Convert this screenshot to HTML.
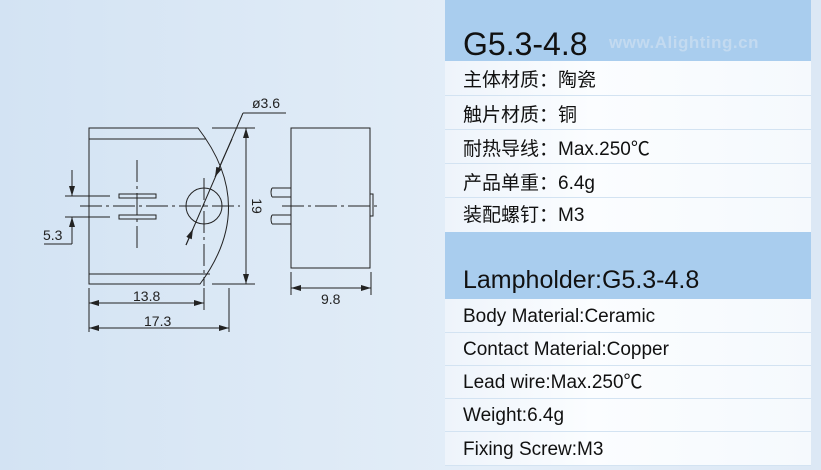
<!DOCTYPE html>
<html><head><meta charset="utf-8"><style>
html,body{margin:0;padding:0}
body{width:821px;height:470px;overflow:hidden;position:relative;background:linear-gradient(90deg,#d3e3f3 0%,#e4eef8 60%,#dce8f5 100%);font-family:"Liberation Sans","Noto Sans CJK SC",sans-serif}
#panel{position:absolute;left:445px;top:0;width:366px;height:466px;background:linear-gradient(90deg,#eef4fb,#fbfdff 40%,#f5f9fd)}
.band{position:absolute;left:0;width:366px;background:#a9cdee}
.row{position:absolute;left:0;width:366px;border-bottom:1px solid #d3e3f2;box-sizing:border-box;font-size:19px;color:#111;padding-left:18px}
.t{position:absolute;left:18px;color:#111}
</style></head><body>
<div id="panel">
 <div class="band" style="top:0;height:61px"></div>
 <div class="t" style="top:24px;font-size:32px;line-height:40px">G5.3-4.8</div>
 <div style="position:absolute;left:164px;top:33px;font-size:17px;font-weight:bold;color:#c3daf0;letter-spacing:0.5px">www.Alighting.cn</div>
 <div class="row" style="top:61px;height:35px;line-height:40px">主体材质：陶瓷</div>
 <div class="row" style="top:96px;height:34px;line-height:40px">触片材质：铜</div>
 <div class="row" style="top:130px;height:34px;line-height:40px">耐热导线：Max.250℃</div>
 <div class="row" style="top:164px;height:34px;line-height:40px">产品单重：6.4g</div>
 <div class="row" style="top:198px;height:34px;line-height:36px;border:none">装配螺钉：M3</div>
 <div class="band" style="top:232px;height:67px"></div>
 <div class="t" style="top:264px;font-size:25px;line-height:32px">Lampholder:G5.3-4.8</div>
 <div class="row" style="top:299px;height:34px;line-height:36px">Body Material:Ceramic</div>
 <div class="row" style="top:333px;height:33px;line-height:34px">Contact Material:Copper</div>
 <div class="row" style="top:366px;height:33px;line-height:34px">Lead wire:Max.250℃</div>
 <div class="row" style="top:399px;height:33px;line-height:34px">Weight:6.4g</div>
 <div class="row" style="top:432px;height:34px;line-height:36px">Fixing Screw:M3</div>
</div>
<svg width="445" height="470" style="position:absolute;left:0;top:0" font-family="Liberation Sans, sans-serif" font-size="14" fill="none" stroke="#222" stroke-width="1">
<defs><marker id="a" viewBox="0 0 10 6" refX="10" refY="3" markerWidth="10" markerHeight="6" orient="auto-start-reverse" markerUnits="userSpaceOnUse"><path d="M0,0L10,3L0,6z" fill="#222" stroke="none"/></marker></defs>
<path d="M89,128H198Q258,206 200,284H89Z"/>
<line x1="89" y1="139" x2="206" y2="139"/><line x1="89" y1="274" x2="210" y2="274"/>
<rect x="119" y="194" width="37" height="4"/><rect x="119" y="215" width="37" height="4"/>
<circle cx="204" cy="206" r="18"/>
<path d="M80,206H240M137,160V252M204,178V286" stroke-dasharray="22,4,3,4"/>
<line x1="65" y1="196" x2="110" y2="196"/><line x1="65" y1="217" x2="110" y2="217"/>
<line x1="72" y1="170" x2="72" y2="196" marker-end="url(#a)"/>
<line x1="72" y1="244" x2="72" y2="217" marker-end="url(#a)"/>
<line x1="44" y1="244" x2="72" y2="244"/>
<line x1="212" y1="128" x2="255" y2="128"/><line x1="212" y1="284" x2="255" y2="284"/>
<line x1="246" y1="128" x2="246" y2="284" marker-start="url(#a)" marker-end="url(#a)"/>
<line x1="243" y1="113" x2="186" y2="245"/>
<line x1="232" y1="139" x2="215" y2="177" marker-end="url(#a)"/>
<line x1="186" y1="245" x2="193" y2="229" marker-end="url(#a)"/>
<line x1="243" y1="113" x2="286" y2="113"/>
<line x1="89" y1="288" x2="89" y2="332"/><line x1="204" y1="288" x2="204" y2="310"/><line x1="229" y1="288" x2="229" y2="332"/>
<line x1="89" y1="303" x2="204" y2="303" marker-start="url(#a)" marker-end="url(#a)"/>
<line x1="89" y1="328" x2="229" y2="328" marker-start="url(#a)" marker-end="url(#a)"/>
<rect x="291" y="128" width="79" height="140"/>
<path d="M272,188H291M272,197H291M272,215H291M272,224H291M272,188q-2,4 0,9M272,215q-2,4 0,9"/>
<rect x="370" y="194" width="3" height="22"/>
<path d="M282,206H381" stroke-dasharray="22,4,3,4"/>
<line x1="291" y1="272" x2="291" y2="295"/><line x1="371" y1="272" x2="371" y2="295"/>
<line x1="291" y1="288" x2="371" y2="288" marker-start="url(#a)" marker-end="url(#a)"/>
<g fill="#222" stroke="none">
<text x="252" y="108">ø3.6</text>
<text x="43" y="240">5.3</text>
<text x="133" y="301">13.8</text>
<text x="144" y="326">17.3</text>
<text x="321" y="304">9.8</text>
<text transform="translate(252,206) rotate(90)" text-anchor="middle">19</text>
</g>
</svg>
</body></html>
